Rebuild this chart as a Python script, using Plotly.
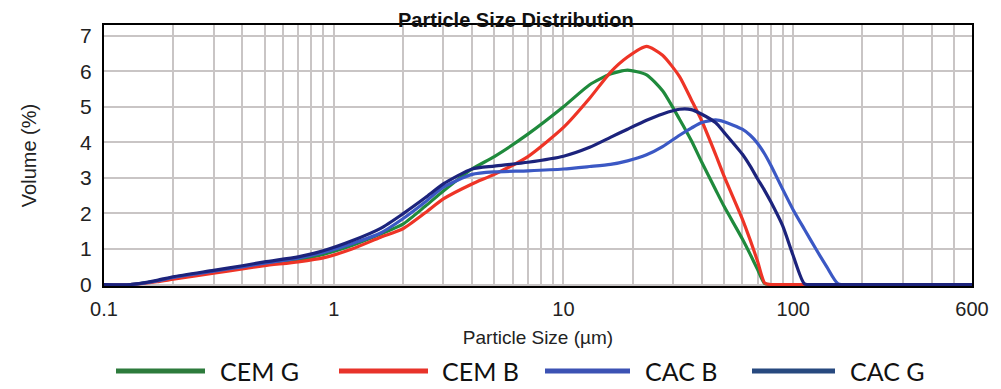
import math
import plotly.graph_objects as go

# particle size grid (um) shared by all curves
sizes = [0.1, 0.13, 0.17, 0.2, 0.3, 0.4, 0.5, 0.7, 0.9, 1.2, 1.6, 2, 2.5, 3, 4, 5, 7, 10,
         13, 16, 19, 23, 27, 32, 36, 40, 46, 50, 60, 65, 70, 75, 80, 90, 100, 112, 125,
         140, 157, 200, 600]

# volume (%)
cem_g = [0, 0, 0.10, 0.18, 0.36, 0.48, 0.58, 0.70, 0.85, 1.10, 1.42, 1.70, 2.20, 2.63, 3.25,
         3.60, 4.23, 5.00, 5.62, 5.92, 6.03, 5.90, 5.45, 4.65, 4.05, 3.44, 2.66, 2.20, 1.29,
         0.85, 0.42, 0.03, 0, 0, 0, 0, 0, 0, 0, 0, 0]
cem_b = [0, 0, 0.08, 0.15, 0.32, 0.44, 0.53, 0.64, 0.75, 1.00, 1.33, 1.57, 2.02, 2.41, 2.83,
         3.10, 3.60, 4.42, 5.24, 5.97, 6.40, 6.70, 6.45, 5.85, 5.20, 4.60, 3.65, 3.05, 1.85,
         1.25, 0.65, 0.05, 0, 0, 0, 0, 0, 0, 0, 0, 0]
cac_b = [0, 0, 0.10, 0.20, 0.38, 0.50, 0.60, 0.74, 0.90, 1.15, 1.45, 1.85, 2.32, 2.74, 3.10,
         3.17, 3.20, 3.25, 3.32, 3.38, 3.48, 3.65, 3.88, 4.20, 4.40, 4.56, 4.63, 4.58, 4.37,
         4.20, 3.97, 3.68, 3.35, 2.68, 2.10, 1.55, 1.02, 0.50, 0.02, 0, 0]
cac_g = [0, 0, 0.12, 0.22, 0.40, 0.53, 0.64, 0.78, 0.95, 1.23, 1.58, 1.99, 2.44, 2.83, 3.25,
         3.33, 3.44, 3.61, 3.86, 4.14, 4.37, 4.62, 4.80, 4.93, 4.92, 4.79, 4.55, 4.28, 3.67,
         3.33, 2.97, 2.65, 2.32, 1.65, 0.81, 0.02, 0, 0, 0, 0, 0]

names = ["CEM G", "CEM B", "CAC B", "CAC G"]
colors = ["#1f8a3c", "#ee3426", "#3b58c4", "#1c237c"]
legend_colors = ["#2d7b3c", "#e8332a", "#3c52b4", "#27497f"]

x_labels = {0.1: "0.1", 1: "1", 10: "10", 100: "100", 600: "600"}
grid_x = [m * 10 ** e for e in range(-1, 2) for m in range(1, 10)] + [100, 200, 300, 400, 500, 600]
grid_x = [round(v, 3) for v in grid_x]

fig = go.Figure()
for name, vals, col in zip(names, [cem_g, cem_b, cac_b, cac_g], colors):
    fig.add_trace(go.Scatter(x=sizes, y=vals, name=name, mode="lines",
                             line=dict(color=col, width=3.2, shape="spline", smoothing=0.6)))

grid = "#c9c5c5"
fig.update_layout(
    width=1001, height=389,
    margin=dict(l=104, r=29, t=25, b=103),
    paper_bgcolor="white", plot_bgcolor="white",
    showlegend=False,
    font=dict(family="Liberation Sans", color="#222222"),
    xaxis=dict(type="log", range=[-1, math.log10(600)],
               tickvals=grid_x, ticktext=[x_labels.get(v, "") for v in grid_x],
               showgrid=True, gridcolor=grid, gridwidth=2,
               showline=True, mirror=True, linecolor="black", linewidth=2,
               ticks="", tickfont=dict(size=20), ticklabelstandoff=4,
               layer="below traces", zeroline=False,
               title=dict(text="Particle Size (µm)", font=dict(size=19), standoff=12)),
    yaxis=dict(range=[-0.04, 7.3], tickvals=list(range(0, 8)),
               showgrid=True, gridcolor=grid, gridwidth=2, zeroline=False,
               showline=True, mirror=True, linecolor="black", linewidth=2,
               ticks="", tickfont=dict(size=21), ticklabelstandoff=6,
               layer="below traces",
               title=dict(text="Volume (%)", font=dict(size=20), standoff=38)),
)

fig.add_annotation(text="<b>Particle Size Distribution</b>", xref="paper", yref="paper",
                   x=0.475, y=1, yanchor="middle", yshift=5, showarrow=False,
                   font=dict(size=20, color="#111111", family="Liberation Sans"))

# hand-drawn legend row under the x axis title
plot_w, plot_h = 868, 261
leg_y = -(371 - 286) / plot_h
leg_lines = [(116, 205, 218), (339, 428, 440), (545, 630, 643), (752, 835, 848)]
for (x0, x1, xt), name, col in zip(leg_lines, names, legend_colors):
    fig.add_shape(type="line", xref="paper", yref="paper",
                  x0=(x0 - 104) / plot_w, x1=(x1 - 104) / plot_w, y0=leg_y, y1=leg_y,
                  line=dict(color=col, width=5))
    fig.add_annotation(text=name, xref="paper", yref="paper", x=(xt - 104) / plot_w, y=leg_y,
                       xanchor="left", yanchor="middle", showarrow=False,
                       font=dict(size=25, color="#111111", family="Lato"))

fig.write_html("out.html", config={"displayModeBar": False},
               post_script="document.body.style.margin='0px';")
